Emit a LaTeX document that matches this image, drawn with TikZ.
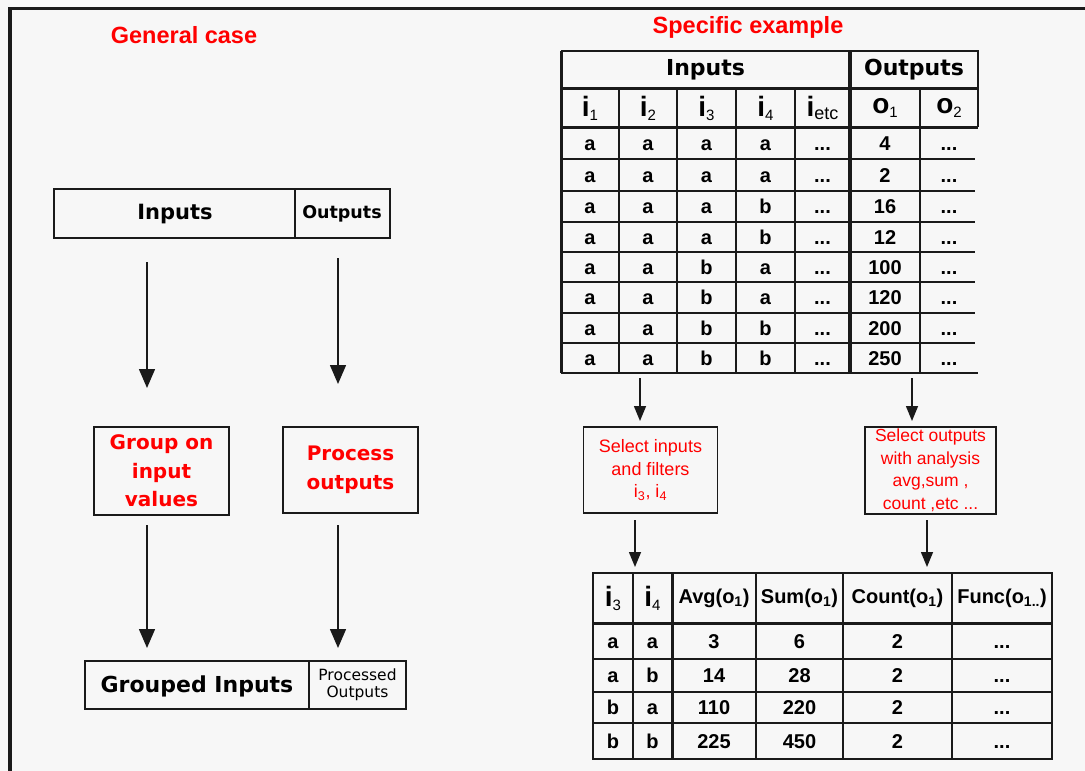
\documentclass[tikz,border=0pt]{standalone}
\usepackage{fontspec}
\setmainfont{Liberation Sans}
\newfontfamily\dvs{DejaVu Sans}
\usetikzlibrary{arrows.meta}
\definecolor{bg}{HTML}{F7F7F7}
\definecolor{ink}{HTML}{1A1A1A}
\definecolor{hot}{HTML}{FF0000}
% subscript used in the table headers
\newcommand\hsub[1]{\raisebox{-4pt}{\fontsize{15}{15}\mdseries\selectfont #1}}
\newcommand\hi[2]{{\fontsize{28}{30}\selectfont #1}\hsub{#2}}
\tikzset{
  box/.style={draw=ink, line width=1.6pt, fill=bg, inner sep=0pt},
  grid/.style={draw=ink, line width=1.6pt},
  heavy/.style={draw=ink, line width=3pt},
  arrbig/.style={draw=ink, line width=1.5pt, -{Triangle[width=16pt,length=19pt]}},
  arrsmall/.style={draw=ink, line width=1.5pt, -{Triangle[width=12pt,length=15pt]}},
  title/.style={text=hot, font=\bfseries\fontsize{23.5}{26}\selectfont},
  redbig/.style={text=hot, align=center, font=\dvs\bfseries\fontsize{20}{28.5}\selectfont},
  redsmall/.style={text=hot, align=center, font=\fontsize{18}{22.5}\selectfont},
  cell/.style={font=\bfseries\fontsize{20}{22}\selectfont, inner sep=0pt, text height=14.3pt, text depth=0pt},
  hcell/.style={font=\bfseries, inner sep=0pt},
  bighead/.style={font=\dvs\bfseries\fontsize{22}{24}\selectfont, inner sep=0pt},
  fhead/.style={font=\bfseries\fontsize{20}{22}\selectfont, inner sep=0pt},
}
\begin{document}
\begin{tikzpicture}[x=1pt,y=-1pt]
\useasboundingbox (0,0) rectangle (1085,771);
\fill[bg] (0,0) rectangle (1085,771);
% outer frame: top and left edges only
\draw[ink, line width=3pt] (8,8) -- (1085,8);
\draw[ink, line width=4pt] (10,8) -- (10,771);

% ---------- titles ----------
\node[title] (tgen) at (184,35) {General case};
\node[title] (tspec) at (748,27) {Specific example};

% ---------- general case ----------
\draw[box] (54,189) rectangle (390,238);
\draw[grid] (295,189) -- (295,238);
\node[font=\dvs\bfseries\fontsize{21}{24}\selectfont] (gin) at (175,214) {Inputs};
\node[font=\dvs\bfseries\fontsize{17.5}{19}\selectfont, inner sep=0pt] (gout) at (342,214) {Outputs};

\node[box, minimum width=135pt, minimum height=88pt, redbig] (grp) at (161.5,471) {Group on\\input\\values};
\node[box, minimum width=135pt, minimum height=86pt, redbig] (proc) at (350.5,470) {Process\\outputs};

\draw[box] (85,661) rectangle (406,709);
\draw[grid] (309,661) -- (309,709);
\node[font=\dvs\bfseries\fontsize{22}{24}\selectfont] (gri) at (197,686) {Grouped Inputs};
\node[align=center, font=\dvs\fontsize{15.5}{17}\selectfont, inner sep=0pt] (pro) at (357.5,685) {Processed\\Outputs};

\coordinate (a1s) at (147,262); \coordinate (a1e) at (147,388);
\coordinate (a2s) at (338,258); \coordinate (a2e) at (338,384);
\coordinate (a3s) at (147,525); \coordinate (a3e) at (147,648);
\coordinate (a4s) at (338,525); \coordinate (a4e) at (338,648);
\draw[arrbig] (a1s) -- (a1e);
\draw[arrbig] (a2s) -- (a2e);
\draw[arrbig] (a3s) -- (a3e);
\draw[arrbig] (a4s) -- (a4e);

% ---------- specific example: source table ----------
\draw[grid] (561,51) -- (978,51) -- (978,127);
\draw[heavy] (561,51) -- (561,373);
\draw[heavy] (561,88) -- (978,88);
\draw[heavy] (561,127) -- (978,127);
\draw[line width=4pt, ink] (850,51) -- (850,373);
\foreach \cx in {619,677,736,795,920} \draw[grid] (\cx,88) -- (\cx,373);
\foreach \ry in {159,191,222,252,282,313,343} \draw[grid] (561,\ry) -- (975,\ry);
\draw[grid] (561,373) -- (978,373);

\node[bighead] (tin) at (705.5,69.5) {Inputs};
\node[bighead] (tout) at (914,69.5) {Outputs};
\node[hcell] (h1) at (590,108) {\hi{i}{1}};
\node[hcell] (h2) at (648,108) {\hi{i}{2}};
\node[hcell] (h3) at (706.5,108) {\hi{i}{3}};
\node[hcell] (h4) at (765.5,108) {\hi{i}{4}};
\node[hcell] (h5) at (822.5,108) {{\fontsize{28}{30}\selectfont i}\raisebox{-3pt}{\fontsize{18}{18}\mdseries\selectfont etc}};
\node[hcell] (h6) at (885,108) {\hi{o}{1}};
\node[hcell] (h7) at (949,108) {\hi{o}{2}};

\foreach \ry/\aa/\bb/\cc/\dd/\oo [count=\k] in
  {143/a/a/a/a/4, 175/a/a/a/a/2, 206.5/a/a/a/b/16, 237/a/a/a/b/12,
   267/a/a/b/a/100, 297.5/a/a/b/a/120, 328/a/a/b/b/200, 358/a/a/b/b/250}{
  \node[cell] (r\k c1) at (590,\ry) {\aa};
  \node[cell] (r\k c2) at (648,\ry) {\bb};
  \node[cell] (r\k c3) at (706.5,\ry) {\cc};
  \node[cell] (r\k c4) at (765.5,\ry) {\dd};
  \node[cell] (r\k c5) at (822.5,\ry) {...};
  \node[cell] (r\k c6) at (885,\ry) {\oo};
  \node[cell] (r\k c7) at (949,\ry) {...};
}

% ---------- selection steps ----------
\node[box, minimum width=134pt, minimum height=86pt, redsmall] (selin) at (650.5,470) {Select inputs\\and filters\\i\textsubscript{3}, i\textsubscript{4}};
\node[box, minimum width=131pt, minimum height=87pt, redsmall, font=\fontsize{17.5}{22.5}\selectfont] (selout) at (930.5,470.5) {Select outputs\\with analysis\\avg,sum ,\\count ,etc ...};

\coordinate (b1s) at (640,378); \coordinate (b1e) at (640,421);
\coordinate (b2s) at (912,378); \coordinate (b2e) at (912,421);
\coordinate (b3s) at (635,520); \coordinate (b3e) at (635,567);
\coordinate (b4s) at (927,520); \coordinate (b4e) at (927,567);
\draw[arrsmall] (b1s) -- (b1e);
\draw[arrsmall] (b2s) -- (b2e);
\draw[arrsmall] (b3s) -- (b3e);
\draw[arrsmall] (b4s) -- (b4e);

% ---------- specific example: result table ----------
\draw[grid] (593,573) rectangle (1052,759);
\draw[heavy] (593,623) -- (1052,623);
\draw[heavy] (672,573) -- (672,759);
\foreach \cx in {633,756,843,952} \draw[grid] (\cx,573) -- (\cx,759);
\foreach \ry in {659,692,723} \draw[grid] (593,\ry) -- (1052,\ry);

\node[hcell] (s1) at (613,598) {\hi{i}{3}};
\node[hcell] (s2) at (652.5,598) {\hi{i}{4}};
\node[fhead] (s3) at (714,598) {Avg(o\textsubscript{1})};
\node[fhead] (s4) at (799.5,598) {Sum(o\textsubscript{1})};
\node[fhead] (s5) at (897.5,598) {Count(o\textsubscript{1})};
\node[fhead] (s6) at (1002,598) {Func(o\textsubscript{1..})};

\foreach \ry/\aa/\bb/\av/\su [count=\k] in
  {641/a/a/3/6, 675.5/a/b/14/28, 707.5/b/a/110/220, 741/b/b/225/450}{
  \node[cell] (q\k c1) at (613,\ry) {\aa};
  \node[cell] (q\k c2) at (652.5,\ry) {\bb};
  \node[cell] (q\k c3) at (714,\ry) {\av};
  \node[cell] (q\k c4) at (799.5,\ry) {\su};
  \node[cell] (q\k c5) at (897.5,\ry) {2};
  \node[cell] (q\k c6) at (1002,\ry) {...};
}
\end{tikzpicture}
\end{document}
